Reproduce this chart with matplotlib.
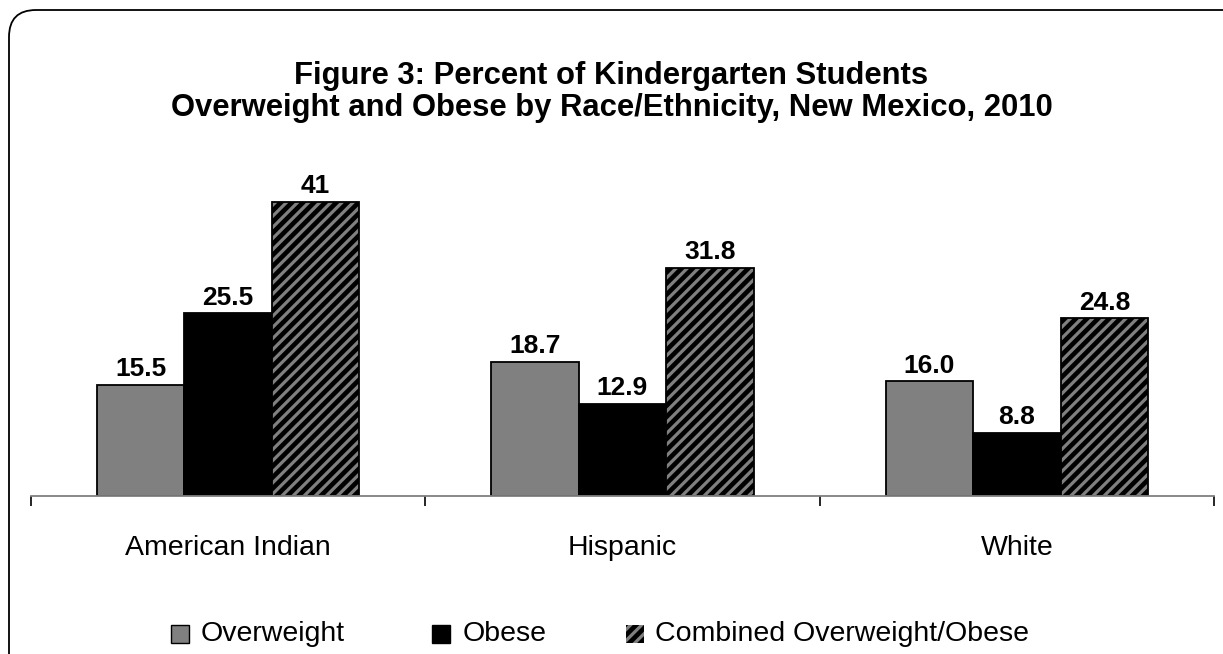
import numpy as np
import matplotlib
matplotlib.use("Agg")
import matplotlib.pyplot as plt
from matplotlib.patches import FancyBboxPatch, Rectangle

plt.rcParams['font.family'] = ['Liberation Sans', 'DejaVu Sans']
plt.rcParams['hatch.linewidth'] = 2.3

# data
groups = ['American Indian', 'Hispanic', 'White']
series = ['Overweight', 'Obese', 'Combined Overweight/Obese']
overweight = [15.5, 18.7, 16.0]
obese = [25.5, 12.9, 8.8]
combined = [41, 31.8, 24.8]
overweight_lbl = ['15.5', '18.7', '16.0']
obese_lbl = ['25.5', '12.9', '8.8']
combined_lbl = ['41', '31.8', '24.8']

W, H = 1223, 654
fig = plt.figure(figsize=(W/100, H/100), dpi=100)

# rounded frame (inches), cut off at right and bottom edge
frame = FancyBboxPatch((0.09, -0.3), 12.6, (H - 10 + 30)/100,
                       boxstyle="round,pad=0,rounding_size=0.27",
                       transform=fig.dpi_scale_trans, fill=False,
                       edgecolor='black', linewidth=1.3)
fig.patches.append(frame)

ax = fig.add_axes([31/W, (H-496)/H, 1183/W, 45*7.17/H])
x = np.arange(len(groups))
bw = 0.222

b1 = ax.bar(x - bw, overweight, bw, color='#808080', edgecolor='black', linewidth=1.3)
b2 = ax.bar(x, obese, bw, color='black', edgecolor='black', linewidth=1.3)
b3 = ax.bar(x + bw, combined, bw, color='black', edgecolor='#808080', hatch='///', linewidth=0)
ax.bar(x + bw, combined, bw, color='none', edgecolor='black', linewidth=1.3)

for bars, lbls in [(b1, overweight_lbl), (b2, obese_lbl), (b3, combined_lbl)]:
    for r, t in zip(bars, lbls):
        ax.text(r.get_x() + r.get_width()/2, r.get_height() + 0.5, t,
                ha='center', va='bottom', fontsize=19, fontweight='bold')

ax.set_xlim(-0.5, 2.5)
ax.set_ylim(0, 45)
for s in ['top', 'right', 'left']:
    ax.spines[s].set_visible(False)
ax.spines['bottom'].set_color('#808080')
ax.spines['bottom'].set_linewidth(1.3)
ax.set_yticks([])
ax.set_xticks([-0.5, 0.5, 1.5, 2.5])
ax.set_xticklabels([])
ax.set_xticks(x, minor=True)
ax.set_xticklabels(groups, minor=True, fontsize=20.5)
ax.tick_params(axis='x', which='major', direction='out', length=7, width=1.2, color='black')
ax.tick_params(axis='x', which='minor', length=0, pad=28)

fig.text(0.5, 1 - 76/H, 'Figure 3: Percent of Kindergarten Students',
         ha='center', va='center', fontsize=22.3, fontweight='bold')
fig.text(0.5, 1 - 108/H, 'Overweight and Obese by Race/Ethnicity, New Mexico, 2010',
         ha='center', va='center', fontsize=22.3, fontweight='bold')

# legend, drawn by hand
leg_sq = [171, 432, 626]
leg_txt = [201, 463, 655]
leg_style = [dict(facecolor='#808080', edgecolor='black', linewidth=1.0),
             dict(facecolor='black', edgecolor='black', linewidth=1.0),
             dict(facecolor='black', edgecolor='#808080', hatch='///', linewidth=0)]
ly = 634
for sx, tx, st, name in zip(leg_sq, leg_txt, leg_style, series):
    fig.patches.append(Rectangle((sx/W, (H - ly - 9)/H), 18/W, 18/H,
                                 transform=fig.transFigure, **st))
    fig.text(tx/W, 1 - ly/H, name, ha='left', va='center', fontsize=20.5)

fig.savefig('out.png', dpi=100)
